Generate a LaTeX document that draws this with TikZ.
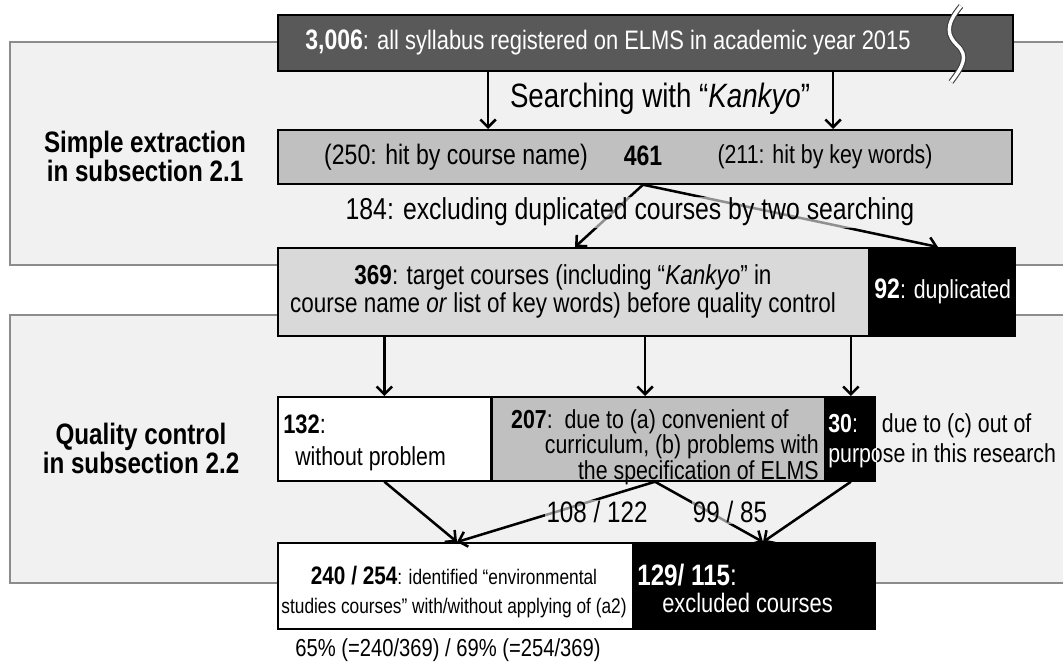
\documentclass[tikz,border=0pt]{standalone}
\usepackage{fontspec}
\setmainfont[FakeStretch=0.82]{Liberation Sans}
\usetikzlibrary{arrows.meta, positioning, calc}
\definecolor{panelgray}{RGB}{241,241,241}
\definecolor{panelline}{RGB}{140,140,140}
\definecolor{darkbox}{RGB}{89,89,89}
\definecolor{midbox}{RGB}{192,192,192}
\definecolor{lightbox}{RGB}{217,217,217}
\newcommand{\fsz}[2]{\fontsize{#1}{#2}\selectfont}

\begin{document}
\begin{tikzpicture}[x=0.025cm, y=-0.025cm,
  box/.style={draw, line width=1.2pt, inner sep=0pt, anchor=north west},
  txt/.style={font=\fsz{18.5}{20}, inner sep=0pt},
  sect/.style={font=\fsz{21}{19}\bfseries, align=center},
  arr/.style={-{Straight Barb[length=5.5pt, width=11pt]}, line width=1.8pt},
  lbl/.style={fill=panelgray, fill opacity=0.6, text opacity=1, inner sep=1pt}
]
  \useasboundingbox (0,0) rectangle (1063,664);

  % the two stages
  \fill[panelgray] (10,42) rectangle (1063,265);
  \draw[panelline, line width=1pt] (1063,42) -- (10,42) -- (10,265) -- (1063,265);
  \fill[panelgray] (10,315) rectangle (1063,583);
  \draw[panelline, line width=1pt] (1063,315) -- (10,315) -- (10,583) -- (1063,583);
  \node[sect] (simple) at (145,156) {Simple extraction\\in subsection 2.1};
  \node[sect] (quality) at (141,448) {Quality control\\in subsection 2.2};

  % boxes
  \node[box, fill=darkbox, minimum width=18.375cm, minimum height=1.4cm] (all) at (277,14) {};
  \node[box, fill=midbox, minimum width=18.35cm, minimum height=1.35cm] (hit) at (277,129) {};
  \node[box, fill=lightbox, minimum width=14.775cm, minimum height=2.2cm] (target) at (277,247) {};
  \node[box, fill=black, text=white, minimum width=3.6cm, minimum height=2.2cm, right=0pt of target, font=\fsz{18.5}{20}]
    (dup) {\fsz{20}{20}\textbf{92}\fsz{18.5}{20}: duplicated};
  \node[box, fill=white, minimum width=5.325cm, minimum height=2.1cm] (ok) at (277,396) {};
  \node[box, fill=midbox, minimum width=8.3cm, minimum height=2.1cm, right=0pt of ok] (conv) {};
  \node[box, fill=black, minimum width=1.225cm, minimum height=2.1cm, right=0pt of conv] (outp) {};
  \node[box, fill=white, minimum width=8.875cm, minimum height=2.15cm] (env) at (277,542) {};
  \node[box, fill=black, minimum width=6cm, minimum height=2.15cm, right=0pt of env] (excl) {};

  % break mark
  \draw[line width=4pt, black!75] (961,6) .. controls (944,26) and (948,36) .. (957,45)
    .. controls (969,56) and (963,66) .. (951,82);
  \draw[line width=2.4pt, white] (961,6) .. controls (944,26) and (948,36) .. (957,45)
    .. controls (969,56) and (963,66) .. (951,82);

  % texts in the boxes
  \node[txt, anchor=west, text=white] (alltxt) at (305,42)
    {\fsz{20}{20}\textbf{3,006}\fsz{19}{20}: all syllabus registered on ELMS in academic year 2015};
  \node[txt, font=\fsz{20}{20}] (byname) at (456,157) {(250: hit by course name)};
  \node[txt, font=\fsz{20}{20}\bfseries] (n461) at (643,156) {461};
  \node[txt] (bykey) at (825,157) {(211: hit by key words)};
  \node[txt, font=\fsz{19.5}{20}, align=center] (targettxt) at (563,291)
    {\textbf{369}: target courses (including “\textit{Kankyo}” in\\course name \textit{or} list of key words) before quality control};
  \node[txt, anchor=base west, font=\fsz{19}{20}] (okno) at (283,433) {\textbf{132}:};
  \node[txt, anchor=base west] (oktxt) at (295,465) {without problem};
  \node[txt, anchor=east, font=\fsz{18.5}{15}, align=right] (convtxt) at (819,447)
    {\textbf{207}:\ \ due to (a) convenient of\hspace*{0.75cm}\\curriculum, (b) problems with\\the specification of ELMS};
  \node[txt, anchor=west, font=\fsz{18.5}{21}, align=left] (outptxt) at (828,441)
    {\textbf{30}:\hspace{0.6cm}due to (c) out of\\purpose in this research};
  \begin{scope}
    \clip (outp.north west) rectangle (outp.south east);
    \node[txt, anchor=west, font=\fsz{18.5}{21}, align=left, text=white] at (828,441)
      {\textbf{30}:\hspace{0.6cm}due to (c) out of\\purpose in this research};
  \end{scope}
  \node[txt, font=\fsz{15}{21}, align=center] (envtxt) at (454,592)
    {\fsz{18}{21}\textbf{240 / 254}\fsz{15}{21}: identified “environmental\\studies courses” with/without applying of (a2)};
  \node[txt, anchor=base west, text=white, font=\fsz{21}{21}] (exclno) at (637,585) {\textbf{129/ 115}:};
  \node[txt, anchor=base west, text=white, font=\fsz{19}{20}] (excltxt) at (662,612) {excluded\ courses};
  \node[txt, font=\fsz{17.5}{20}] (pct) at (448,650) {65\% (=240/369) / 69\% (=254/369)};

  % connectors
  \draw[arr] (all.south -| 488,0) -- (hit.north -| 488,0);
  \draw[arr] (all.south -| 833,0) -- (hit.north -| 833,0);
  \coordinate (fork1) at (hit.south -| n461);
  \draw[arr] (fork1) -- (target.north -| 575,0);
  \draw[arr] (fork1) -- (dup.north -| 938,0);
  \draw[arr] (target.south -| ok.north) -- (ok.north);
  \draw[arr] (target.south -| 645,0) -- (conv.north -| 645,0);
  \draw[arr] (target.south -| outp.north) -- (outp.north);
  \coordinate (fork2) at (conv.south -| 655,0);
  \draw[arr] (ok.south) -- (env.north -| 457,0);
  \draw[arr] (fork2) -- (env.north -| 457,0);
  \draw[arr] (fork2) -- (excl.north -| 763,0);
  \draw[arr] (outp.south) -- (excl.north -| 763,0);

  % labels on connectors
  \node[font=\fsz{24}{26}] (search) at (660,99) {Searching with “\textit{Kankyo}”};
  \node[lbl, font=\fsz{21.5}{22}] (dedup) at (630,212) {184: excluding duplicated courses by two searching};
  \node[lbl, font=\fsz{21}{22}] (cnt1) at (597,512) {108 / 122};
  \node[lbl, font=\fsz{21}{22}] (cnt2) at (730,512) {99 / 85};
\end{tikzpicture}
\end{document}
